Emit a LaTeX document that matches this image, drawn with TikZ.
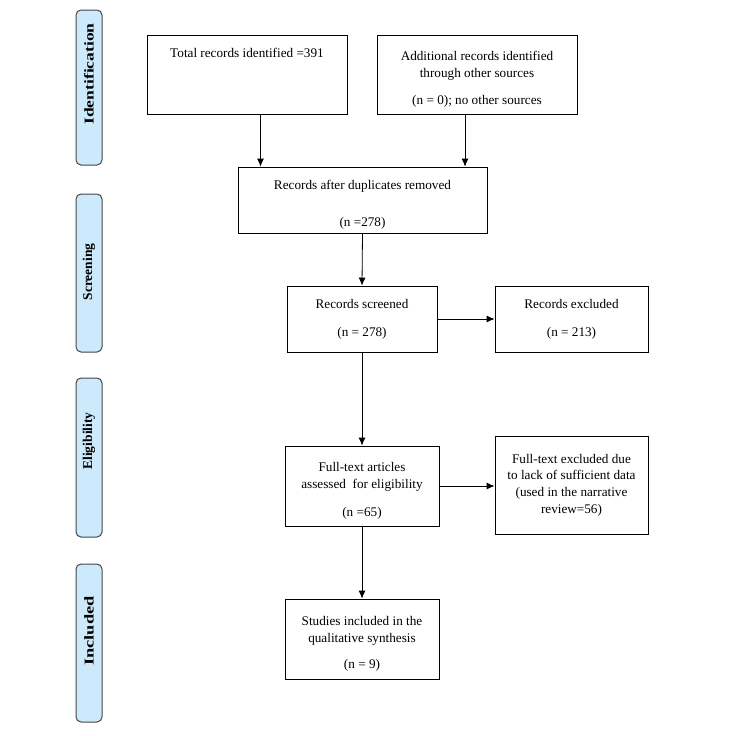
\documentclass[tikz,border=0pt]{standalone}
\usepackage{fontspec}
\setmainfont{Liberation Serif}
\usetikzlibrary{arrows.meta, positioning}
\definecolor{barblue}{RGB}{204,234,252}
\definecolor{bardraw}{RGB}{70,70,70}
\newcommand{\lowstrut}{\rule{0pt}{19pt}}

\begin{document}
\begin{tikzpicture}[x=1pt,y=-1pt,>={Latex[length=8pt,width=7pt]},
    prismabox/.style={draw, line width=0.8pt, align=center, inner sep=0pt,
        font=\fontsize{13.2}{16.7}\selectfont},
    phasebar/.style={draw=bardraw, fill=barblue, line width=1pt,
        rounded corners=5pt, minimum width=26pt, inner sep=0pt},
    phaselab/.style={rotate=90, inner sep=0pt,
        font=\fontsize{13.5}{16}\selectfont\bfseries}]

    \useasboundingbox (0,0) rectangle (750,736);

    %--------------------------------
    % Phase bars (left)
    %--------------------------------
    \foreach \nm/\yc/\h/\yt/\sx/\lab in {
        id/87.5/155/74/1.3/Identification, scr/273/158/272/1/Screening,
        elig/457.5/159/441/1/Eligibility, inc/643/158/631/1.36/Included}{
        \node[phasebar, minimum height=\h pt] (ph-\nm) at (89,\yc) {};
        \node[phaselab] (lb-\nm) at (89,\yt) {\scalebox{\sx}[1]{\lab}};
    }

    %--------------------------------
    % Identification
    %--------------------------------
    \node[prismabox, minimum width=200pt, minimum height=79pt] (tot) at (247,74.5)
        {Total records identified =391\\[26pt]\mbox{}};
    \node[prismabox, minimum width=200pt, minimum height=79pt] (add) at (477,74.5)
        {\lowstrut Additional records identified\\through other sources\\[11pt](n = 0); no other sources};

    %--------------------------------
    % Screening
    %--------------------------------
    \node[prismabox, minimum width=249pt, minimum height=66pt] (dup) at (362.5,200)
        {\lowstrut Records after duplicates removed\\[20pt](n =278)};
    \node[prismabox, minimum width=150pt, minimum height=66pt] (scrn) at (362,319)
        {Records screened\\[11pt](n = 278)};
    \node[prismabox, minimum width=153pt, minimum height=66pt] (excl) at (571.5,319)
        {Records excluded\\[11pt](n = 213)};

    %--------------------------------
    % Eligibility
    %--------------------------------
    \node[prismabox, minimum width=154pt, minimum height=80pt] (full) at (362,486)
        {\lowstrut Full-text articles\\assessed\ \ for eligibility\\[11pt](n =65)};
    \node[prismabox, minimum width=153pt, minimum height=98pt] (ftex) at (571.5,485)
        {Full-text excluded due\\to lack of sufficient data\\(used in the narrative\\review=56)};

    %--------------------------------
    % Included
    %--------------------------------
    \node[prismabox, minimum width=154pt, minimum height=80pt] (incl) at (362,639)
        {\lowstrut Studies included in the\\qualitative synthesis\\[10pt](n = 9)};

    %--------------------------------
    % Connectors
    %--------------------------------
    \draw[->, line width=0.8pt] ([xshift=13.5pt]tot.south) -- ([xshift=13.5pt]tot.south |- dup.north);
    \draw[->, line width=0.8pt] ([xshift=-12pt]add.south) -- ([xshift=-12pt]add.south |- dup.north);
    \draw[->, line width=0.8pt] (dup.south) -- (scrn.north);
    \draw[->, line width=0.8pt] (scrn.east) -- (excl.west);
    \draw[->, line width=0.8pt] (scrn.south) -- (full.north);
    \draw[->, line width=0.8pt] (full.east) -- (full.east -| ftex.west);
    \draw[->, line width=0.8pt] (full.south) -- (incl.north);

\end{tikzpicture}
\end{document}
